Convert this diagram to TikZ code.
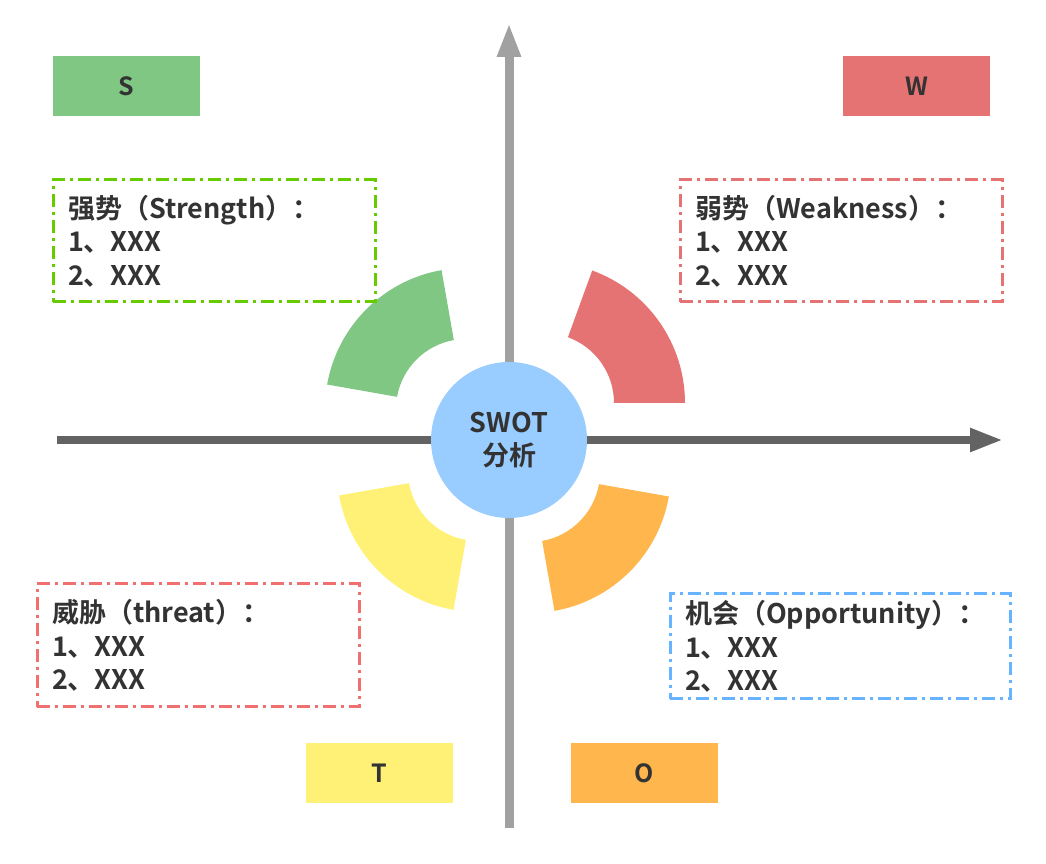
\documentclass[tikz,border=0pt]{standalone}
\usepackage{fontspec}
\setmainfont{Noto Sans CJK SC}[BoldFont={Noto Sans CJK SC Bold}]
\usetikzlibrary{arrows.meta}
\definecolor{sgreen}{HTML}{81C784}
\definecolor{wred}{HTML}{E57373}
\definecolor{tyellow}{HTML}{FFF176}
\definecolor{oorange}{HTML}{FFB74D}
\definecolor{cblue}{HTML}{99CCFF}
\definecolor{txt}{HTML}{333333}
\definecolor{lgreen}{HTML}{66CC00}
\definecolor{lred}{HTML}{F07070}
\definecolor{lblue}{HTML}{66B3FF}
\begin{document}
\begin{tikzpicture}[x=1pt,y=1pt,
  tag/.style={fill=#1,minimum width=147pt,minimum height=60pt,inner sep=0pt,
    font=\fontsize{25}{30}\selectfont\bfseries,text=txt},
  note/.style={draw=#1,line width=3pt,dash pattern=on 13pt off 5pt on 3pt off 5pt,
    inner xsep=15pt,inner ysep=0pt,align=left,
    font=\fontsize{27}{33.5}\selectfont\bfseries,text=txt},
  band/.style={fill=#1}]
\useasboundingbox (0,0) rectangle (1046,864);
% axes
\coordinate (yB) at (509,36);
\coordinate (yT) at (509,841);
\coordinate (xL) at (57,424);
\coordinate (xR) at (1003,424);
\draw[line width=9pt,color=black!37,-{Triangle[length=34pt,width=22pt]}] (yB) -- (yT);
\draw[line width=8pt,color=black!61,-{Triangle[length=33pt,width=22pt]}] (xL) -- (xR);
% sectors
\fill[band=sgreen] (466,455) ++(100:70) arc[start angle=100,end angle=170,radius=70]
  -- ++(170:71) arc[start angle=170,end angle=100,radius=141] -- cycle;
\fill[band=wred] (544,461) ++(0:70) arc[start angle=0,end angle=70,radius=70]
  -- ++(70:71) arc[start angle=70,end angle=0,radius=141] -- cycle;
\fill[band=tyellow] (478,393) ++(190:70) arc[start angle=190,end angle=260,radius=70]
  -- ++(260:71) arc[start angle=260,end angle=190,radius=141] -- cycle;
\fill[band=oorange] (530,392) ++(280:70) arc[start angle=280,end angle=350,radius=70]
  -- ++(350:71) arc[start angle=350,end angle=280,radius=141] -- cycle;
% centre
\node[circle,fill=cblue,minimum size=156pt,inner sep=0pt,align=center,
  font=\fontsize{27}{33}\selectfont\bfseries,text=txt](swot) at (509,424){SWOT\\分析};
% tags
\node[tag=sgreen](S) at (126.5,778){S};
\node[tag=wred](W) at (916.5,778){W};
\node[tag=tyellow](T) at (379.5,91){T};
\node[tag=oorange](O) at (644.5,91){O};
% notes
\node[note=lgreen,text width=292pt,minimum height=122pt](str) at (214,623)
  {强势（Strength）：\\1、XXX\\2、XXX};
\node[note=wred,text width=292pt,minimum height=122pt](wea) at (841,623)
  {弱势（Weakness）：\\1、XXX\\2、XXX};
\node[note=lred,text width=292pt,minimum height=123pt](thr) at (198,218.5)
  {威胁（threat）：\\1、XXX\\2、XXX};
\node[note=lblue,text width=310pt,minimum height=105pt](opp) at (840,217.5)
  {机会（Opportunity）：\\1、XXX\\2、XXX};
\end{tikzpicture}
\end{document}
